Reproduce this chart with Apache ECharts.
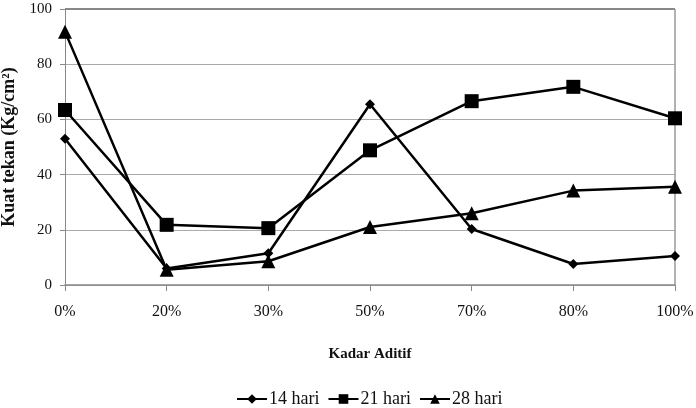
<!DOCTYPE html>
<html><head><meta charset="utf-8">
<script src="https://cdn.jsdelivr.net/npm/echarts@6/dist/echarts.min.js"></script>
<style>html,body{margin:0;padding:0;background:#fff}#c{width:696px;height:408px}</style>
</head><body><div id="c"></div>
<script>
const categories = ['0%','20%','30%','50%','70%','80%','100%'];
const hari14 = [53, 6, 11.5, 65.5, 20.3, 7.6, 10.5];
const hari21 = [63.4, 21.8, 20.6, 48.8, 66.6, 71.8, 60.4];
const hari28 = [91.8, 5.5, 8.6, 21, 26, 34.2, 35.6];
const seriesNames = ['14 hari','21 hari','28 hari'];
const yTicks = [0, 20, 40, 60, 80, 100];

const font = 'Liberation Serif';
const chart = echarts.init(document.getElementById('c'));
function mk(name, data, symbol, size){
  return {name, type:'line', data, symbol, symbolSize:size,
    lineStyle:{color:'#000', width:2.5}, itemStyle:{color:'#000'}, z:3};
}
chart.setOption({
  animation:false,
  grid:{left:65, right:21, top:9, bottom:123, outerBoundsMode:'none', containLabel:false},
  xAxis:{type:'category', data:categories, boundaryGap:false,
    axisLine:{lineStyle:{color:'#888', width:1.5}},
    axisTick:{show:true, length:6, lineStyle:{color:'#888'}},
    axisLabel:{fontFamily:font, fontSize:16, color:'#111', margin:19},
    name:'Kadar Aditif', nameLocation:'middle', nameGap:62,
    nameTextStyle:{fontFamily:font, fontSize:15, fontWeight:'bold', color:'#111'}},
  yAxis:{type:'value', min:yTicks[0], max:yTicks[yTicks.length-1], interval:20,
    axisLine:{show:true, lineStyle:{color:'#888'}},
    axisTick:{show:true, length:5, lineStyle:{color:'#888'}},
    splitLine:{lineStyle:{color:'#aaa', width:1}},
    axisLabel:{fontFamily:font, fontSize:15, color:'#111', margin:13},
    name:'Kuat tekan (Kg/cm²)', nameLocation:'middle', nameGap:45,
    nameTextStyle:{fontFamily:font, fontSize:18, fontWeight:'bold', color:'#111'}},
  legend:{bottom:0, left:236, padding:0, itemWidth:30, itemHeight:12, itemGap:8,
    textStyle:{fontFamily:font, fontSize:18, color:'#111', padding:[0,0,0,-3]},
    data:seriesNames},
  series:[
    mk(seriesNames[0], hari14, 'diamond', 10),
    mk(seriesNames[1], hari21, 'rect', 14),
    mk(seriesNames[2], hari28, 'triangle', 14)
  ],
  graphic:[{type:'line', shape:{x1:65, y1:9, x2:675, y2:9}, style:{stroke:'#888', lineWidth:2}, z:2},
           {type:'line', shape:{x1:675, y1:9, x2:675, y2:285}, style:{stroke:'#999', lineWidth:1.5}, z:2}]
});
</script></body></html>
